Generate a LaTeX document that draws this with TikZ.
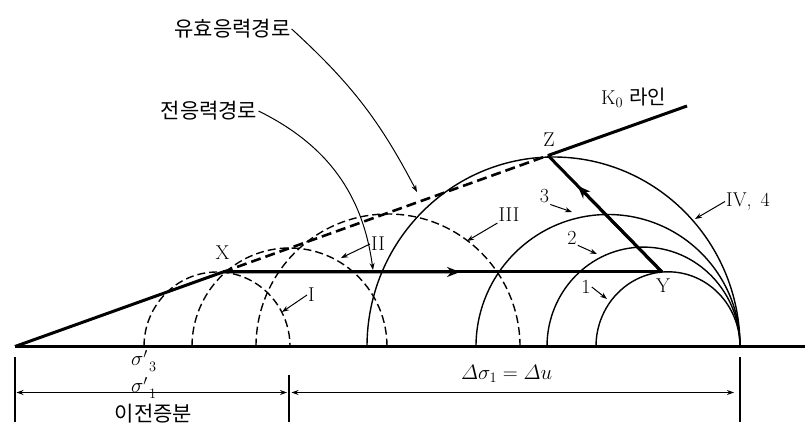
\documentclass[tikz,border=0pt]{standalone}
\usepackage{fontspec}
\usepackage{amsmath}
\newfontfamily\kr{Noto Sans CJK KR}
\usetikzlibrary{arrows.meta,calc}

\begin{document}
\begin{tikzpicture}[x=1pt, y=1pt,
	epais/.style={line width=3pt},
	fin/.style={line width=1.4pt},
	pointille/.style={line width=1.4pt, dash pattern=on 8pt off 4pt},
	fleche/.style={line width=1pt, -{Stealth[length=7pt, width=5pt]}},
	cote/.style={line width=0.9pt, {Stealth[length=7pt, width=5pt]}-{Stealth[length=7pt, width=5pt]}},
	lab/.style={font=\fontsize{20}{24}\selectfont, inner sep=1pt},
	labkr/.style={font=\fontsize{21}{25}\selectfont\kr, inner sep=1pt}]
	\useasboundingbox (0,-89.5) rectangle (811,346.5);
	% Axe
	\draw[epais] (15,0) -- (805,0);
	% Ligne K0
	\coordinate (O) at (15,0);
	\coordinate (K) at (687,240.5);
	\coordinate (X) at (223,74.5);
	\coordinate (Y) at (662,74.5);
	\coordinate (Z) at (548,191);
	\draw[epais] (O) -- (X);
	\draw[line width=2.6pt, dash pattern=on 10pt off 5pt] (X) -- (Z);
	\draw[epais] (Z) -- (K);
	\node[lab, right] (k0) at (600,248.5) {K$_0$\hspace{6pt}{\kr 라인}};
	% cercles I, II, III
	\draw[pointille] (144,0) arc[start angle=180, end angle=0, x radius=73, y radius=74.5];
	\draw[pointille] (192,0) arc[start angle=180, end angle=0, x radius=97.5, y radius=98.5];
	\draw[pointille] (256,0) arc[start angle=180, end angle=0, x radius=132, y radius=132.5];
	% cercles 1, 2, 3, IV
	\draw[fin] (367,0) arc[start angle=180, end angle=0, x radius=186.5, y radius=189.5];
	\draw[fin] (476,0) arc[start angle=180, end angle=0, x radius=132, y radius=132];
	\draw[fin] (547,0) arc[start angle=180, end angle=0, x radius=96.5, y radius=99.4];
	\draw[fin] (596,0) arc[start angle=180, end angle=0, x radius=72, y radius=74.7];
	% chemins de contrainte
	\draw[epais] (X) -- (Y);
	\draw[epais, -{Stealth[length=13pt, width=10pt]}] (X) -- ($(X)!0.54!(Y)$);
	\draw[epais] (Y) -- (Z);
	\draw[epais, -{Stealth[length=13pt, width=10pt]}] (Y) -- ($(Y)!0.74!(Z)$);
	\node[lab] (lX) at (222.5,94) {X};
	\node[lab] (lY) at (663,60.5) {Y};
	\node[lab] (lZ) at (549,207) {Z};
	% étiquettes des cercles
	\node[lab] (lI) at (311.5,51.5) {I};
	\node[lab] (lII) at (378,102.5) {II};
	\node[lab] (lIII) at (509,131.5) {III};
	\node[lab] (l1) at (586,59.5) {1};
	\node[lab] (l2) at (572,109) {2};
	\node[lab] (l3) at (544.5,150) {3};
	\node[lab] (lIV) at (748,145) {IV,\hspace{9pt}4};
	\coordinate (pI) at (282,34.5);
	\coordinate (pII) at (341,88.5);
	\coordinate (pIII) at (467,105.5);
	\coordinate (p1) at (607,47.5);
	\coordinate (p2) at (597,92.5);
	\coordinate (p3) at (572,134.5);
	\coordinate (pIV) at (695,127.5);
	\draw[fleche] (lI.west) -- (pI);
	\draw[fleche] (lII.west) -- (pII);
	\draw[fleche] (lIII.south west) -- (pIII);
	\draw[fleche] (l1.east) -- (p1);
	\draw[fleche] (l2.south east) -- (p2);
	\draw[fleche] (l3.south east) -- (p3);
	\draw[fleche] (lIV.west) -- (pIV);
	% chemins (légendes)
	\node[labkr] (eff) at (232.5,317.5) {유효응력경로};
	\node[labkr] (tot) at (209,235.5) {전응력경로};
	\coordinate (pEff) at (417,154.5);
	\coordinate (pTot) at (373,76.5);
	\draw[fleche] (eff.east) to[bend left=10] (pEff);
	\draw[fleche] (tot.east) to[bend left=28] (pTot);
	% cotes
	\coordinate (g1) at (15,-10.5);
	\coordinate (g2) at (15,-75.5);
	\coordinate (m1) at (289,-28.5);
	\coordinate (m2) at (289,-75.5);
	\coordinate (d1) at (740,-10.5);
	\coordinate (d2) at (740,-75.5);
	\draw[line width=1.3pt] (g1) -- (g2);
	\draw[line width=2pt] (m1) -- (m2);
	\draw[line width=1.3pt] (d1) -- (d2);
	\coordinate (a1) at (16.5,-46);
	\coordinate (a2) at (287,-46);
	\coordinate (a3) at (291.5,-46);
	\coordinate (a4) at (734,-46);
	\draw[cote] (a1) -- (a2);
	\draw[cote] (a3) -- (a4);
	\node[lab, anchor=base west, inner sep=0pt] (s3) at (131,-19.5) {$\sigma'_{\;\,3}$};
	\node[lab, anchor=base west, inner sep=0pt] (s1) at (131,-46.5) {$\sigma'_{\;\,1}$};
	\node[labkr] (incr) at (153.5,-67.5) {이전증분};
	\node[lab, anchor=base west, inner sep=0pt] (du) at (461,-33) {$\varDelta\sigma_1 = \varDelta u$};
\end{tikzpicture}
\end{document}
